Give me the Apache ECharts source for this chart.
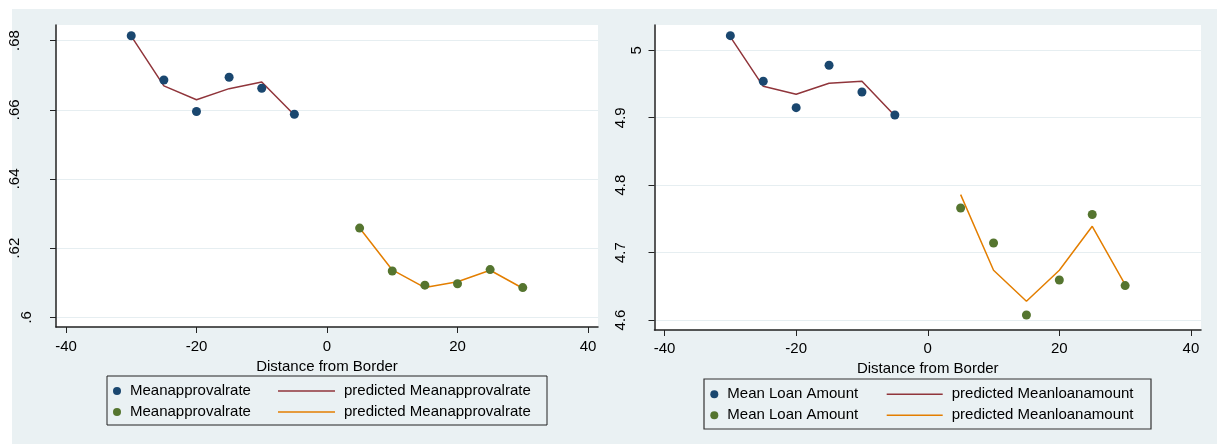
<!DOCTYPE html>
<html>
<head>
<meta charset="utf-8">
<script src="https://cdn.jsdelivr.net/npm/echarts@6/dist/echarts.min.js"></script>
<style>
  html, body { margin: 0; padding: 0; background: #ffffff; }
  #chart { width: 1221px; height: 444px; }
</style>
</head>
<body>
<div id="chart"></div>
<script>
// Distance from border (bins) on each side
const distBefore = [-30, -25, -20, -15, -10, -5];
const distAfter = [5, 10, 15, 20, 25, 30];

// Mean approval rate and its fitted values
const approvalBefore = [0.6814, 0.6686, 0.6595, 0.6694, 0.6662, 0.6587];
const approvalBeforeFit = [0.6813, 0.6669, 0.6629, 0.6661, 0.6680, 0.6585];
const approvalAfter = [0.6258, 0.6134, 0.6093, 0.6097, 0.6138, 0.6086];
const approvalAfterFit = [0.6258, 0.6137, 0.6086, 0.6103, 0.6136, 0.6084];

// Mean loan amount and its fitted values
const loanBefore = [5.0217, 4.9540, 4.9149, 4.9778, 4.9382, 4.9040];
const loanBeforeFit = [5.0200, 4.9466, 4.9347, 4.9510, 4.9540, 4.9030];
const loanAfter = [4.7661, 4.7142, 4.6075, 4.6594, 4.7564, 4.6511];
const loanAfterFit = [4.7860, 4.6738, 4.6278, 4.6738, 4.7390, 4.6525];

// Tick values and labels
const distTicks = [-40, -20, 0, 20, 40];
const distTickLabels = ['-40', '-20', '0', '20', '40'];
const approvalTicks = [0.6, 0.62, 0.64, 0.66, 0.68];
const approvalTickLabels = ['.6', '.62', '.64', '.66', '.68'];
const loanTicks = [4.6, 4.7, 4.8, 4.9, 5];
const loanTickLabels = ['4.6', '4.7', '4.8', '4.9', '5'];

// Legend texts
const approvalLegend = ['Meanapprovalrate', 'predicted Meanapprovalrate', 'Meanapprovalrate', 'predicted Meanapprovalrate'];
const loanLegend = ['Mean Loan Amount', 'predicted Meanloanamount', 'Mean Loan Amount', 'predicted Meanloanamount'];
const axisTitle = 'Distance from Border';

const NAVY = '#1a476f', MAROON = '#90353b', GREEN = '#55752f', ORANGE = '#e37e00';
const FONT = 'Liberation Sans, Arial, sans-serif';
const INK = '#000000';

const pairs = (xs, ys) => xs.map((x, i) => [x, ys[i]]);

// series keys -> legend text
const seriesKeys = ['apB', 'apBFit', 'apA', 'apAFit', 'lnB', 'lnBFit', 'lnA', 'lnAFit'];
const legendText = {};
seriesKeys.slice(0, 4).forEach((k, i) => { legendText[k] = approvalLegend[i]; });
seriesKeys.slice(4).forEach((k, i) => { legendText[k] = loanLegend[i]; });

function tickLabelFmt(ticks, labels, shortLen) {
  return function (v) {
    const i = ticks.findIndex(t => Math.abs(t - v) < 1e-9);
    if (i < 0) return '';
    const s = labels[i];
    return (s.length <= shortLen ? '{s|' : '{l|') + s + '}';
  };
}

function xAxisCfg(gridIndex, nameGap, labelMargin) {
  return {
    type: 'value', gridIndex: gridIndex, min: -41.53, max: 41.53,
    name: axisTitle, nameLocation: 'middle', nameGap: nameGap,
    nameTextStyle: { fontFamily: FONT, fontSize: 15, color: INK },
    axisLine: { show: true, onZero: false, lineStyle: { color: '#222', width: 1.5 } },
    axisTick: { show: true, length: 6, customValues: distTicks, lineStyle: { color: '#222', width: 1 } },
    axisLabel: {
      customValues: distTicks, margin: labelMargin, fontFamily: FONT, fontSize: 15, color: INK,
      formatter: v => distTickLabels[distTicks.indexOf(v)]
    },
    splitLine: { show: false }
  };
}

function yAxisCfg(gridIndex, min, max, ticks, labels, shortLen, margin, extra) {
  return {
    type: 'value', gridIndex: gridIndex, min: min, max: max,
    axisLine: { show: true, onZero: false, lineStyle: { color: '#222', width: 1.5 } },
    axisTick: { show: true, length: 6, customValues: ticks, lineStyle: { color: '#222', width: 1 } },
    axisLabel: {
      customValues: ticks, rotate: 90, margin: margin, fontFamily: FONT, fontSize: 15, color: INK,
      formatter: tickLabelFmt(ticks, labels, shortLen),
      rich: {
        s: { fontFamily: FONT, fontSize: 15, color: INK },
        l: { fontFamily: FONT, fontSize: 15, color: INK, padding: [0, 0, extra, 0] }
      }
    },
    splitLine: { show: true, lineStyle: { color: '#e6eef1', width: 1.2 } }
  };
}

function scatter(name, xi, yi, xs, ys, color) {
  return { name: name, type: 'scatter', xAxisIndex: xi, yAxisIndex: yi, data: pairs(xs, ys),
    symbol: 'circle', symbolSize: 9, itemStyle: { color: color, opacity: 1 }, z: 3 };
}
function fitLine(name, xi, yi, xs, ys, color) {
  return { name: name, type: 'line', xAxisIndex: xi, yAxisIndex: yi, data: pairs(xs, ys),
    symbol: 'none', lineStyle: { color: color, width: 1.5 }, itemStyle: { color: color } };
}

// a thin horizontal bar used as the legend key of the fitted lines
const lineKey = 'path://M0,0 H60 V1.6 H0 Z';

function legendCfg(names, left, top, iconW, isLine) {
  return {
    data: names, orient: 'vertical', left: left, top: top, padding: 0,
    itemWidth: iconW, itemHeight: 8, itemGap: 6, selectedMode: false,
    icon: isLine ? lineKey : 'circle', symbolKeepAspect: true,
    itemStyle: { opacity: 1 },
    formatter: n => legendText[n],
    textStyle: { fontFamily: FONT, fontSize: 15, color: INK, padding: [0, 0, 0, 4] }
  };
}

const chart = echarts.init(document.getElementById('chart'), null, { renderer: 'canvas' });
chart.setOption({
  animation: false,
  backgroundColor: '#ffffff',
  graphic: [
    { type: 'rect', z: -10, silent: true, shape: { x: 12, y: 9, width: 1205, height: 435 }, style: { fill: '#eaf1f3' } },
    { type: 'rect', z: 10, silent: true, shape: { x: 107, y: 376, width: 440, height: 49 }, style: { fill: 'none', stroke: '#222', lineWidth: 1 } },
    { type: 'rect', z: 10, silent: true, shape: { x: 704, y: 379, width: 447, height: 50 }, style: { fill: 'none', stroke: '#333', lineWidth: 1.2 } }
  ],
  grid: [
    { left: 56, top: 25, width: 542, height: 302, show: true, backgroundColor: '#ffffff', borderWidth: 0, containLabel: false },
    { left: 654.5, top: 25, width: 546.5, height: 305, show: true, backgroundColor: '#ffffff', borderWidth: 0, containLabel: false }
  ],
  xAxis: [xAxisCfg(0, 24, 12), xAxisCfg(1, 24, 11)],
  yAxis: [
    yAxisCfg(0, 0.5972, 0.6845, approvalTicks, approvalTickLabels, 2, 22, 12),
    yAxisCfg(1, 4.5852, 5.0375, loanTicks, loanTickLabels, 1, 10, 16)
  ],
  legend: [
    legendCfg(['apB', 'apA'], 113, 383.5, 8, false),
    legendCfg(['apBFit', 'apAFit'], 278, 383.5, 57, true),
    legendCfg(['lnB', 'lnA'], 710.3, 386.8, 8, false),
    legendCfg(['lnBFit', 'lnAFit'], 886.7, 386.8, 56, true)
  ],
  series: [
    scatter('apB', 0, 0, distBefore, approvalBefore, NAVY),
    fitLine('apBFit', 0, 0, distBefore, approvalBeforeFit, MAROON),
    scatter('apA', 0, 0, distAfter, approvalAfter, GREEN),
    fitLine('apAFit', 0, 0, distAfter, approvalAfterFit, ORANGE),
    scatter('lnB', 1, 1, distBefore, loanBefore, NAVY),
    fitLine('lnBFit', 1, 1, distBefore, loanBeforeFit, MAROON),
    scatter('lnA', 1, 1, distAfter, loanAfter, GREEN),
    fitLine('lnAFit', 1, 1, distAfter, loanAfterFit, ORANGE)
  ]
});
</script>
</body>
</html>
